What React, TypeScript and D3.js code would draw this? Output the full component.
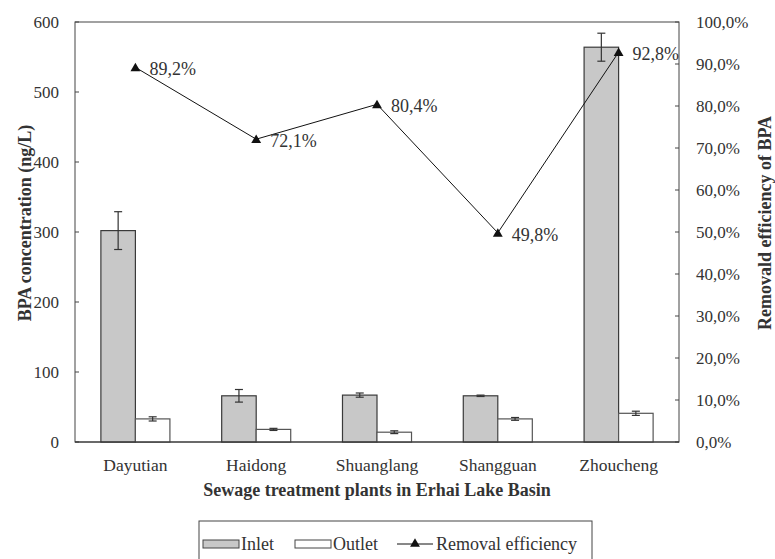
import React from "react";
import * as d3 from "d3";

const categories = ["Dayutian", "Haidong", "Shuanglang", "Shangguan", "Zhoucheng"];
const inlet = [302, 66, 67, 66, 564];
const inletErr = [27, 9, 3, 1, 20];
const outlet = [33, 18, 14, 33, 41];
const outletErr = [3, 1.5, 2, 2, 3];
const removal = [89.2, 72.1, 80.4, 49.8, 92.8];
const leftTicks = [0, 100, 200, 300, 400, 500, 600];
const rightTicks = [0, 10, 20, 30, 40, 50, 60, 70, 80, 90, 100];
const seriesNames = ["Inlet", "Outlet"];

const W = 775;
const H = 559;
const M = { left: 75, right: 679, top: 22, bottom: 442 };
const FONT = '"Liberation Serif", "Times New Roman", Times, "DejaVu Serif", serif';
const FS = 17;
const TXT = "#333";

const fmtPct = (v: number) => v.toFixed(1).replace(".", ",") + "%";

export default function App() {
  const x0 = d3.scaleBand<string>().domain(categories).range([M.left, M.right]).padding(0);
  const x1 = d3
    .scaleBand<string>()
    .domain(seriesNames)
    .range([0, x0.bandwidth()])
    .paddingInner(0)
    .paddingOuter(0.75);
  const y = d3.scaleLinear().domain([0, 600]).range([M.bottom, M.top]);
  const y2 = d3.scaleLinear().domain([0, 100]).range([M.bottom, M.top]);
  const cx = (c: string) => (x0(c) as number) + x0.bandwidth() / 2;

  const line = d3
    .line<number>()
    .x((_, i) => cx(categories[i]))
    .y((d) => y2(d));

  const tri = d3.symbol().type(d3.symbolTriangle).size(42)() as string;

  const bw = x1.bandwidth();
  const capW = 8;
  const ts = { fontFamily: FONT };

  const bars = categories.flatMap((c, i) => {
    const vals = [inlet[i], outlet[i]];
    const errs = [inletErr[i], outletErr[i]];
    return seriesNames.map((s, j) => {
      const bx = (x0(c) as number) + (x1(s) as number);
      const v = vals[j];
      const e = errs[j];
      const mx = bx + bw / 2;
      return (
        <g key={c + s}>
          <rect
            x={bx}
            y={y(v)}
            width={bw}
            height={y(0) - y(v)}
            fill={j === 0 ? "#c8c8c8" : "#ffffff"}
            stroke={j === 0 ? "#3a3a3a" : "#555"}
            strokeWidth={1.2}
          />
          <line x1={mx} x2={mx} y1={y(v - e)} y2={y(v + e)} stroke="#333" strokeWidth={1.2} />
          <line x1={mx - capW / 2} x2={mx + capW / 2} y1={y(v - e)} y2={y(v - e)} stroke="#333" strokeWidth={1.2} />
          <line x1={mx - capW / 2} x2={mx + capW / 2} y1={y(v + e)} y2={y(v + e)} stroke="#333" strokeWidth={1.2} />
        </g>
      );
    });
  });

  const titleY = 223;

  return (
    <svg width={W} height={H} style={{ position: "absolute", left: 0, top: 0, background: "#fff", fontFamily: FONT }}>
      <rect x={0} y={0} width={W} height={H} fill="#fff" />
      <rect
        x={M.left}
        y={M.top}
        width={M.right - M.left}
        height={M.bottom - M.top}
        fill="none"
        stroke="#444"
        strokeWidth={1}
      />
      {leftTicks.map((t) => (
        <g key={"l" + t}>
          <line x1={M.left} x2={M.left + 4} y1={y(t)} y2={y(t)} stroke="#444" />
          <text x={M.left - 16} y={y(t)} dy="0.35em" textAnchor="end" fontSize={FS} fill={TXT} style={ts}>
            {t}
          </text>
        </g>
      ))}
      {rightTicks.map((t) => (
        <g key={"r" + t}>
          <line x1={M.right - 4} x2={M.right} y1={y2(t)} y2={y2(t)} stroke="#444" />
          <text x={M.right + 17} y={y2(t)} dy="0.35em" textAnchor="start" fontSize={FS} fill={TXT} style={ts}>
            {fmtPct(t)}
          </text>
        </g>
      ))}
      {bars}
      <line x1={M.left} x2={M.right} y1={M.bottom} y2={M.bottom} stroke="#333" strokeWidth={1.2} />
      <path d={line(removal) as string} fill="none" stroke="#111" strokeWidth={1} />
      {removal.map((v, i) => (
        <g key={"m" + i}>
          <path d={tri} transform={`translate(${cx(categories[i])},${y2(v) + 1})`} fill="#111" />
          <text x={cx(categories[i]) + 14} y={y2(v) + 8} fontSize={18} fill={TXT} style={ts}>
            {fmtPct(v)}
          </text>
        </g>
      ))}
      {categories.map((c) => (
        <text key={"x" + c} x={cx(c)} y={471} textAnchor="middle" fontSize={17.5} fill={TXT} style={ts}>
          {c}
        </text>
      ))}
      <text x={(M.left + M.right) / 2} y={496} textAnchor="middle" fontSize={18} fontWeight="bold" fill={TXT} style={ts}>
        Sewage treatment plants in Erhai Lake Basin
      </text>
      <text
        transform={`translate(31,${titleY}) rotate(-90)`}
        textAnchor="middle"
        fontSize={18}
        fontWeight="bold"
        fill={TXT}
        style={ts}
      >
        BPA concentration (ng/L)
      </text>
      <text
        transform={`translate(771,${titleY}) rotate(-90)`}
        textAnchor="middle"
        fontSize={18}
        fontWeight="bold"
        fill={TXT}
        style={ts}
      >
        Removald efficiency of BPA
      </text>
      <rect x={199} y={521} width={393} height={50} fill="none" stroke="#444" strokeWidth={1} />
      <rect x={203} y={540} width={36} height={8} fill="#c8c8c8" stroke="#444" strokeWidth={1} />
      <text x={241} y={550} fontSize={18} fill={TXT} style={ts}>
        Inlet
      </text>
      <rect x={295} y={540} width={36} height={8} fill="#fff" stroke="#444" strokeWidth={1} />
      <text x={333} y={550} fontSize={18} fill={TXT} style={ts}>
        Outlet
      </text>
      <line x1={397} x2={433} y1={544} y2={544} stroke="#111" strokeWidth={1} />
      <path d={tri} transform="translate(415,544)" fill="#111" />
      <text x={436} y={550} fontSize={18} fill={TXT} style={ts}>
        Removal efficiency
      </text>
    </svg>
  );
}
